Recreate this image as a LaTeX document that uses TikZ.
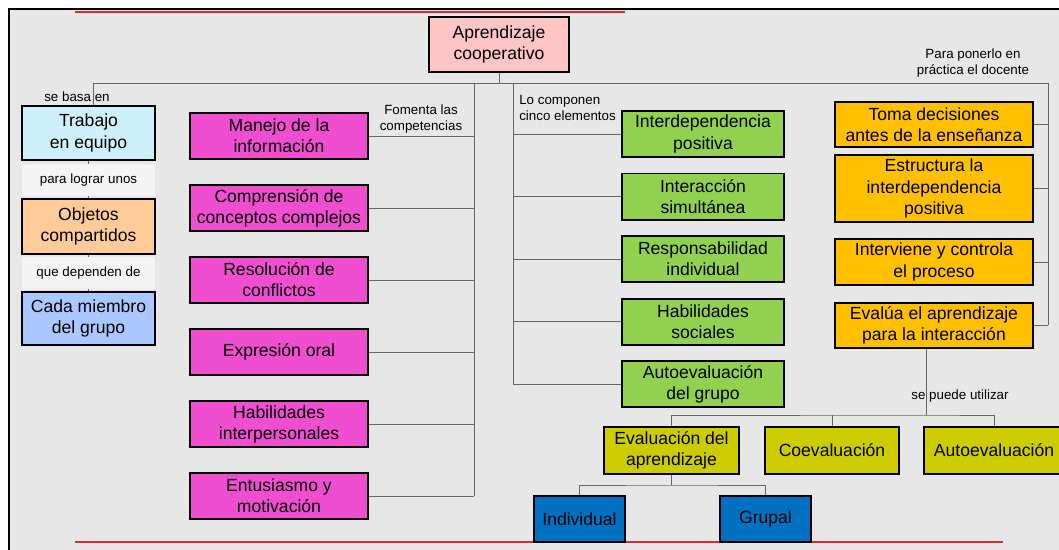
\documentclass[tikz,border=0pt]{standalone}
\usepackage{fontspec}
\setmainfont{Liberation Sans}
\usetikzlibrary{arrows.meta}

\definecolor{bgGray}{RGB}{231,231,231}
\definecolor{labelWhite}{RGB}{244,244,244}
\definecolor{edgeRed}{RGB}{225,40,40}
\definecolor{rootPink}{RGB}{255,196,196}
\definecolor{teamCyan}{RGB}{206,240,250}
\definecolor{goalOrange}{RGB}{255,204,153}
\definecolor{memberBlue}{RGB}{170,200,255}
\definecolor{skillPink}{RGB}{240,78,208}
\definecolor{elemGreen}{RGB}{146,208,80}
\definecolor{teachOrange}{RGB}{255,192,0}
\definecolor{evalYellow}{RGB}{204,204,0}
\definecolor{kindBlue}{RGB}{0,112,192}

\tikzset{
  box/.style={draw, rectangle, line width=1.4pt, align=center, inner sep=1pt,
    font=\fontsize{12.5}{15}\selectfont},
  link/.style={draw=black!60, line width=0.7pt},
  note/.style={align=center, inner sep=0pt, font=\fontsize{9.5}{11}\selectfont},
}

\begin{document}
\begin{tikzpicture}[x=0.025cm, y=-0.025cm, node distance=1.8cm]
  \useasboundingbox (0,0) rectangle (1059,550);
  \fill[white] (0,0) rectangle (1059,550);
  \draw[fill=bgGray, line width=0.8pt] (9,9) rectangle (1075,565);
  \draw[edgeRed, line width=0.8pt] (75,12) -- (625,12);
  \draw[edgeRed, line width=0.8pt] (75,542) -- (1003,542);

  % root
  \node[box, fill=rootPink, minimum width=3.5cm, minimum height=1.375cm] (apr) at (499,44.5) {Aprendizaje\\cooperativo};

  % left column
  \node[box, fill=teamCyan, minimum width=3.325cm, minimum height=1.35cm] (trab) at (88.5,133) {Trabajo\\en equipo};
  \node[box, fill=goalOrange, minimum width=3.325cm, minimum height=1.375cm, node distance=2.34cm, below of=trab] (obj) {Objetos\\compartidos};
  \node[box, fill=memberBlue, minimum width=3.325cm, minimum height=1.325cm, node distance=2.3cm, below of=obj] (cada) {Cada miembro\\del grupo};

  % competencias
  \node[box, fill=skillPink, minimum width=4.45cm, minimum height=1.15cm] (m1) at (279,136) {Manejo de la\\información};
  \node[box, fill=skillPink, minimum width=4.45cm, minimum height=1.15cm, below of=m1] (m2) {Comprensión de\\conceptos complejos};
  \node[box, fill=skillPink, minimum width=4.45cm, minimum height=1.15cm, below of=m2] (m3) {Resolución de\\conflictos};
  \node[box, fill=skillPink, minimum width=4.45cm, minimum height=1.15cm, below of=m3] (m4) {Expresión oral};
  \node[box, fill=skillPink, minimum width=4.45cm, minimum height=1.15cm, below of=m4] (m5) {Habilidades\\interpersonales};
  \node[box, fill=skillPink, minimum width=4.45cm, minimum height=1.15cm, below of=m5] (m6) {Entusiasmo y\\motivación};

  % elementos
  \node[note, align=left, anchor=west] (lbElem) at (519,108) {Lo componen\\cinco elementos};
  \node[box, fill=elemGreen, minimum width=4.05cm, minimum height=1.15cm] (g1) at (703,134) {Interdependencia\\positiva};
  \node[box, fill=elemGreen, minimum width=4.05cm, minimum height=1.15cm, node distance=1.5625cm, below of=g1] (g2) {Interacción\\simultánea};
  \node[box, fill=elemGreen, minimum width=4.05cm, minimum height=1.15cm, node distance=1.5625cm, below of=g2] (g3) {Responsabilidad\\individual};
  \node[box, fill=elemGreen, minimum width=4.05cm, minimum height=1.15cm, node distance=1.5625cm, below of=g3] (g4) {Habilidades\\sociales};
  \node[box, fill=elemGreen, minimum width=4.05cm, minimum height=1.15cm, node distance=1.5625cm, below of=g4] (g5) {Autoevaluación\\del grupo};

  % docente
  \node[box, fill=teachOrange, minimum width=4.95cm, minimum height=1.125cm] (o1) at (934,124.5) {Toma decisiones\\antes de la enseñanza};
  \node[box, fill=teachOrange, minimum width=4.95cm, minimum height=1.675cm] (o2) at (934,188.5) {Estructura la\\interdependencia\\positiva};
  \node[box, fill=teachOrange, minimum width=4.95cm, minimum height=1.15cm] (o3) at (934,262) {Interviene y controla\\el proceso};
  \node[box, fill=teachOrange, minimum width=4.95cm, minimum height=1.125cm] (o4) at (934,325.5) {Evalúa el aprendizaje\\para la interacción};

  % evaluacion
  \node[box, fill=evalYellow, minimum width=3.375cm, minimum height=1.175cm] (y1) at (671.5,450.5) {Evaluación del\\aprendizaje};
  \node[box, fill=evalYellow, minimum width=3.35cm, minimum height=1.175cm] (y2) at (832,450.5) {Coevaluación};
  \node[box, fill=evalYellow, minimum width=3.5cm, minimum height=1.175cm] (y3) at (994,450.5) {Autoevaluación};
  \node[box, fill=kindBlue, minimum width=2.275cm, minimum height=1.15cm] (b1) at (579.5,519) {Individual};
  \node[box, fill=kindBlue, minimum width=2.275cm, minimum height=1.15cm] (b2) at (765.5,519) {Grupal};

  % connectors
  \coordinate (busL) at (93,83);
  \coordinate (busR) at (1048,83);
  \coordinate (compTop) at (474,83);
  \coordinate (elemTop) at (513,83);
  \coordinate (evalSplit) at (926,415);
  \coordinate (indSplit) at (671.5,485);
  \draw[link] (apr.south) -- (apr.south |- busL);
  \draw[link] (busL) -- (busR);
  \draw[link] (busL) -- (busL |- trab.north);
  \draw[link] (trab) -- node[note, fill=labelWhite, minimum width=3.325cm, minimum height=0.8cm] (lbLograr) {para lograr unos} (obj);
  \draw[link] (obj) -- node[note, fill=labelWhite, minimum width=3.325cm, minimum height=0.8cm] (lbDepend) {que dependen de} (cada);
  \draw[link] (compTop) -- (compTop |- m6);
  \foreach \n in {m1,m2,m3,m4,m5,m6}
    \draw[link] (\n.east) -- (\n.east -| compTop);
  \draw[link] (elemTop) -- (elemTop |- g5);
  \foreach \n in {g1,g2,g3,g4,g5}
    \draw[link] (\n.west) -- (\n.west -| elemTop);
  \draw[link] (busR) -- (busR |- o4);
  \foreach \n in {o1,o2,o3,o4}
    \draw[link] (\n.east) -- (\n.east -| busR);
  \draw[link] (o4.south -| evalSplit) -- (evalSplit);
  \draw[link] (y1.north) |- (evalSplit) -| (y3.north);
  \draw[link] (y2.north) -- (y2.north |- evalSplit);
  \draw[link] (y1.south) -- (indSplit);
  \draw[link] (b1.north) |- (indSplit) -| (b2.north);

  % labels
  \node[note] (lbBasa) at (77,97) {se basa en};
  \node[note] (lbFomenta) at (421,119) {Fomenta las\\competencias};
  \node[note] (lbDocente) at (973,63) {Para ponerlo en\\práctica el docente};
  \node[note] (lbUtilizar) at (960,396) {se puede utilizar};
\end{tikzpicture}
\end{document}
